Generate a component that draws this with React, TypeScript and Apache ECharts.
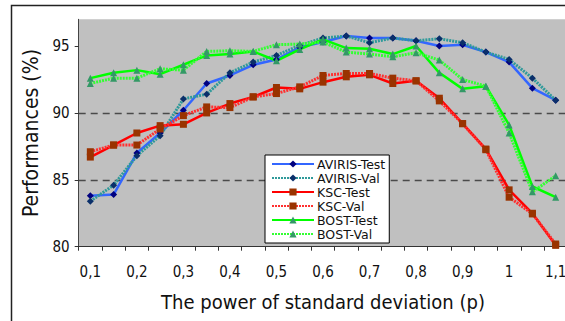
import React, { useEffect, useRef } from "react";
import * as echarts from "echarts";

const categories = ["0,1","0,15","0,2","0,25","0,3","0,35","0,4","0,45","0,5","0,55","0,6","0,65","0,7","0,75","0,8","0,85","0,9","0,95","1","1,05","1,1"];
const avirisTest = [83.8, 83.9, 87.0, 88.5, 90.2, 92.2, 92.8, 93.6, 94.0, 94.9, 95.3, 95.75, 95.6, 95.6, 95.4, 95.0, 95.1, 94.55, 93.8, 91.85, 90.95];
const avirisVal = [83.4, 84.6, 86.8, 88.3, 91.05, 91.4, 93.0, 93.8, 94.3, 95.05, 95.6, 95.75, 95.25, 95.6, 95.4, 95.55, 95.25, 94.55, 94.0, 92.6, 90.95];
const kscTest = [86.7, 87.6, 88.5, 89.05, 89.15, 90.0, 90.7, 91.2, 91.9, 91.8, 92.3, 92.7, 92.85, 92.2, 92.4, 91.1, 89.2, 87.3, 84.25, 82.5, 80.1];
const kscVal = [87.1, 87.6, 87.6, 88.8, 89.8, 90.45, 90.4, 91.2, 91.45, 91.95, 92.8, 92.95, 92.95, 92.6, 92.4, 90.9, 89.2, 87.25, 83.7, 82.45, 80.2];
const bostTest = [92.6, 93.0, 93.2, 92.9, 93.6, 94.3, 94.4, 94.6, 93.9, 94.75, 95.5, 94.85, 94.8, 94.4, 95.0, 93.0, 91.8, 92.0, 89.1, 84.5, 83.7];
const bostVal = [92.2, 92.6, 92.6, 93.3, 93.2, 94.6, 94.65, 94.6, 95.1, 95.15, 95.3, 94.55, 94.4, 94.2, 94.5, 93.95, 92.5, 92.0, 88.5, 84.1, 85.3];
const yTicks = [80, 85, 90, 95];

const FONT = "'DejaVu Sans Condensed', 'DejaVu Sans', sans-serif";
const LEGEND_FONT = "'DejaVu Sans', sans-serif";

export default function App() {
  const ref = useRef<HTMLDivElement>(null);
  useEffect(() => {
    if (!ref.current) return;
    const chart = echarts.init(ref.current, null, { renderer: "svg" });
    const mk = (name: string, data: number[], color: string, symbol: string, symColor: string, size: number, dotted: boolean) => ({
      name,
      type: "line",
      data,
      symbol,
      symbolSize: size,
      itemStyle: { color: symColor, borderWidth: 0 },
      lineStyle: dotted
        ? { color, width: 3, type: [2, 1] }
        : { color, width: 2.5, type: "solid" },
      z: 3,
    });
    chart.setOption({
      animation: false,
      backgroundColor: "#ffffff",
      textStyle: { fontFamily: FONT },
      graphic: [
        {
          type: "rect",
          shape: { x: 11.5, y: 5.5, width: 700, height: 500 },
          style: { fill: "none", stroke: "#222", lineWidth: 1.5 },
          z: -10,
        },
      ],
      grid: {
        left: 78.7,
        top: 19.3,
        right: -2.3,
        bottom: 74.3,
        show: true,
        backgroundColor: "#C0C0C0",
        borderWidth: 0,
        containLabel: false,
        outerBoundsMode: "none",
      },
      legend: {
        orient: "vertical",
        left: 265,
        top: 155,
        padding: [2, 4, 2, 6],
        backgroundColor: "#ffffff",
        borderColor: "#000",
        borderWidth: 1,
        borderRadius: 0,
        itemWidth: 42,
        itemHeight: 9,
        itemGap: 0,
        textStyle: { fontFamily: LEGEND_FONT, fontSize: 12.5, color: "#111", lineHeight: 14, padding: [0, 0, 0, -2] },
        data: ["AVIRIS-Test", "AVIRIS-Val", "KSC-Test", "KSC-Val", "BOST-Test", "BOST-Val"],
      },
      xAxis: {
        type: "category",
        data: categories,
        boundaryGap: true,
        name: "The power of standard deviation (p)",
        nameLocation: "middle",
        nameGap: 45,
        nameTextStyle: { fontFamily: FONT, fontSize: 20, color: "#111" },
        axisLine: { show: true, lineStyle: { color: "#333", width: 1 } },
        axisTick: { show: true, interval: 0, length: 4, alignWithLabel: false, lineStyle: { color: "#333" } },
        axisLabel: { interval: 1, margin: 18, fontFamily: FONT, fontSize: 15, color: "#111" },
        splitLine: { show: false },
      },
      yAxis: {
        type: "value",
        min: 80,
        max: 97,
        interval: 5,
        name: "Performances (%)",
        nameLocation: "middle",
        nameGap: 36,
        nameTextStyle: { fontFamily: FONT, fontSize: 21, color: "#111" },
        axisLine: { show: true, lineStyle: { color: "#444", width: 1 } },
        axisTick: { show: true, length: 4, lineStyle: { color: "#333" }, customValues: yTicks },
        axisLabel: {
          margin: 9,
          fontFamily: FONT,
          fontSize: 15,
          color: "#111",
          customValues: yTicks,
          formatter: (v: number) => (yTicks.indexOf(v) >= 0 ? String(v) : ""),
        },
        splitLine: {
          show: true,
          showMinLine: false,
          showMaxLine: false,
          lineStyle: { color: "#4a4a4a", width: 1.3, type: [7, 5] },
        },
      },
      series: [
        mk("AVIRIS-Test", avirisTest, "#3366FF", "diamond", "#000080", 7, false),
        mk("AVIRIS-Val", avirisVal, "#2F9A9A", "diamond", "#0A2F6A", 7, true),
        mk("KSC-Test", kscTest, "#FF0000", "rect", "#993300", 7, false),
        mk("KSC-Val", kscVal, "#FF3030", "rect", "#993300", 7, true),
        mk("BOST-Test", bostTest, "#00FF00", "triangle", "#339966", 7, false),
        mk("BOST-Val", bostVal, "#33FF33", "triangle", "#339966", 7, true),
      ],
    });
    return () => chart.dispose();
  }, []);
  return <div ref={ref} style={{ position: "fixed", left: 0, top: 0, width: 565, height: 321, background: "#fff" }} />;
}
